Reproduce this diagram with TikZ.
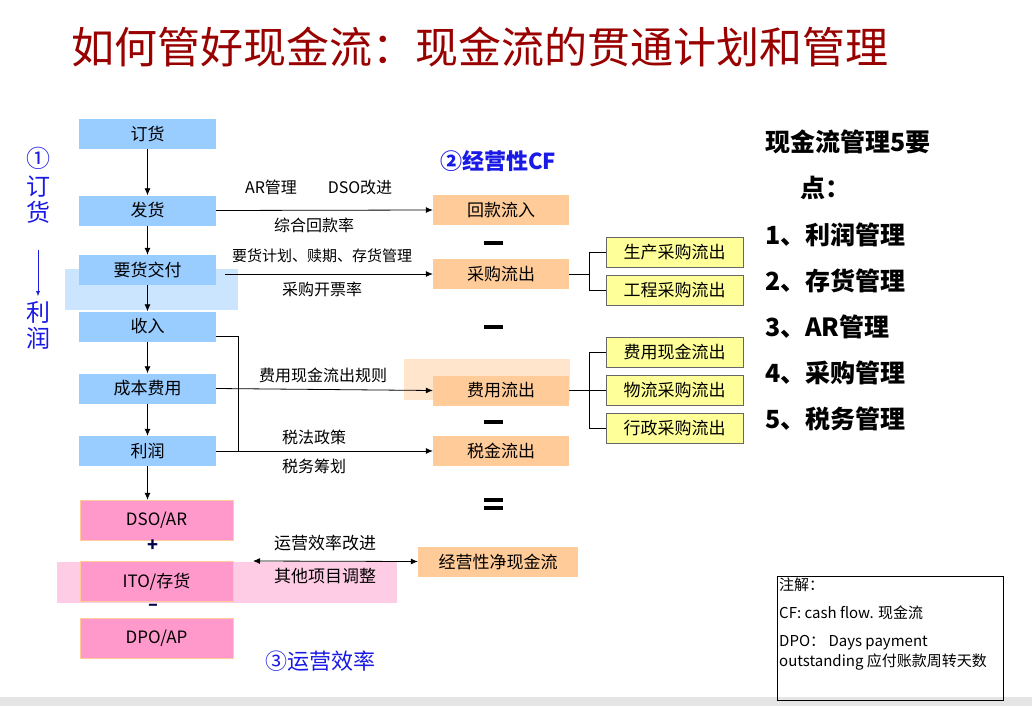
\documentclass[tikz,border=0pt]{standalone}
\usepackage{fontspec}
\setmainfont{Noto Sans CJK SC}
\usetikzlibrary{arrows.meta}
\definecolor{bl}{HTML}{99CCFF}
\definecolor{or}{HTML}{FFCC99}
\definecolor{pk}{HTML}{FF99CC}
\definecolor{ye}{HTML}{FFFF99}
\definecolor{tr}{HTML}{990000}
\definecolor{bt}{HTML}{1A1AE6}
\begin{document}
\begin{tikzpicture}[x=1pt,y=-1pt,
 bb/.style={fill=bl,minimum width=137pt,minimum height=30pt,inner sep=0pt,font=\fontsize{17}{17}\selectfont},
 ob/.style={fill=or,minimum width=136pt,minimum height=30pt,inner sep=0pt,font=\fontsize{17}{17}\selectfont},
 pb/.style={fill=pk,draw=or,minimum width=153pt,minimum height=40pt,inner sep=0pt,font=\fontsize{17}{17}\selectfont},
 yb/.style={fill=ye,draw=black!60,minimum width=137pt,minimum height=30pt,inner sep=0pt,font=\fontsize{17}{17}\selectfont},
 lab/.style={font=\fontsize{16}{16}\selectfont,inner sep=1pt},
 ar/.style={-{Latex[length=7pt,width=6pt]},line width=0.8pt},
 ln/.style={line width=0.8pt},
 big/.style={font=\fontsize{25}{25}\selectfont\bfseries,anchor=west,inner sep=0pt}]
\useasboundingbox (0,0) rectangle (1032,706);
\fill[white] (0,0) rectangle (1032,706);
\fill[black!10] (0,697) rectangle (1032,706);
\node[text=tr,font=\fontsize{43}{43}\selectfont] (title) at (480,47) {如何管好现金流：现金流的贯通计划和管理};
% highlights
\fill[bl!50] (65,269) rectangle (238,310);
\fill[pk!50] (57,562) rectangle (397,603);
\fill[or!50] (404,359) rectangle (570,400);
% blue column
\node[bb] (a1) at (147.5,134) {订货};
\node[bb] (a2) at (147.5,210.5) {发货};
\node[bb] (a3) at (147.5,270) {要货交付};
\node[bb] (a4) at (147.5,326.5) {收入};
\node[bb] (a5) at (147.5,388.5) {成本费用};
\node[bb] (a6) at (147.5,451) {利润};
\node[pb] (d1) at (156.5,520) {DSO/AR};
\node[pb] (d2) at (156.5,581.5) {ITO/存货};
\node[pb] (d3) at (156.5,638.5) {DPO/AP};
\node[text=black!70!blue,font=\fontsize{18}{18}\selectfont\bfseries] (pl) at (153,546) {+};
\node[text=black!70!blue,font=\fontsize{18}{18}\selectfont\bfseries] (mi) at (153,607) {–};
\foreach \u/\v in {a1/a2,a2/a3,a3/a4,a4/a5,a5/a6} \draw[ar] (\u) -- (\v);
\draw[ar] (a6.south) -- (a6.south|-d1.north);
% orange
\node[ob] (c1) at (501,210) {回款流入};
\node[ob] (c2) at (501,274) {采购流出};
\node[ob] (c3) at (501,390.5) {费用流出};
\node[ob] (c4) at (501,451) {税金流出};
\node[ob,minimum width=160pt] (c5) at (498,561.5) {经营性净现金流};
\foreach \yy in {243,327,422} \fill (484,\yy-2) rectangle (503,\yy+2);
\fill (484,498) rectangle (503,502); \fill (484,506) rectangle (503,510);
% yellow
\node[yb] (y1) at (674.5,252) {生产采购流出};
\node[yb] (y2) at (674.5,290.5) {工程采购流出};
\node[yb] (y3) at (674.5,352) {费用现金流出};
\node[yb] (y4) at (674.5,390.5) {物流采购流出};
\node[yb] (y5) at (674.5,428.5) {行政采购流出};
\coordinate (k1) at (589,274); \coordinate (k2) at (589,390.5);
\draw[ln] (c2.east) -- (k1) (k1|-y1) -- (k1|-y2) (k1|-y1) -- (y1.west) (k1|-y2) -- (y2.west);
\draw[ln] (c3.east) -- (k2) (k2|-y3) -- (k2|-y5) (k2|-y3) -- (y3.west) (k2|-y4) -- (y4.west) (k2|-y5) -- (y5.west);
% arrows
\draw[ar] (a2.east) -- (c1.west);
\coordinate (s3) at (225,274);
\draw[ar] (s3) -- (c2.west);
\draw[ar] (a5.east) -- (c3.west);
\draw[ar] (a6.east) -- (c4.west);
\coordinate (j) at (238,336);
\draw[ln] (a4.east|-j) -- (j) -- (j|-c4);
\coordinate (e1) at (253,561);
\draw[{Latex[length=7pt,width=6pt]}-{Latex[length=7pt,width=6pt]},line width=0.8pt] (e1) -- (c5.west);
% labels
\node[lab] (l1) at (271,187) {AR管理};
\node[lab] (l2) at (360,187) {DSO改进};
\node[lab] (l3) at (314,225) {综合回款率};
\node[lab,font=\fontsize{15}{15}\selectfont] (l4) at (322,256) {要货计划、赎期、存货管理};
\node[lab] (l5) at (322,289) {采购开票率};
\node[lab] (l6) at (323,375) {费用现金流出规则};
\node[lab] (l7) at (314,437) {税法政策};
\node[lab] (l8) at (314,466) {税务筹划};
\node[lab,font=\fontsize{17}{17}\selectfont] (l9) at (325,543) {运营效率改进};
\node[lab,font=\fontsize{17}{17}\selectfont] (l10) at (325,576) {其他项目调整};
% blue headings
\node[text=bt,font=\fontsize{22}{22}\selectfont\bfseries] (h2) at (498,161) {②经营性CF};
\node[text=bt,font=\fontsize{22}{22}\selectfont] (h3) at (320,661) {③运营效率};
\node[text=bt,font=\fontsize{24}{24}\selectfont,align=center,inner sep=0pt] (h1a) at (38,185) {①\\[4pt]订\\[2pt]货};
\coordinate (v1) at (38,250); \coordinate (v2) at (38,296);
\draw[bt,-{Latex[length=5pt,width=4pt]}] (v1) -- (v2);
\node[text=bt,font=\fontsize{24}{24}\selectfont,align=center,inner sep=0pt] (h1b) at (38,325) {利\\[2pt]润};
% right list
\node[big] (r0) at (765,142) {现金流管理5要};
\node[big] (r0b) at (800,188) {点：};
\node[big] (r1) at (765,235) {1、利润管理};
\node[big] (r2) at (765,281) {2、存货管理};
\node[big] (r3) at (765,327) {3、AR管理};
\node[big] (r4) at (765,373) {4、采购管理};
\node[big] (r5) at (765,419) {5、税务管理};
% note
\draw[line width=0.6pt] (777,576) rectangle (1003,700);
\node[anchor=north west,inner sep=0pt,font=\fontsize{15}{20}\selectfont,align=left] (note) at (779,578) {注解：\\[8pt]CF: cash flow. 现金流\\[8pt]DPO： Days payment\\outstanding 应付账款周转天数};
\end{tikzpicture}
\end{document}
